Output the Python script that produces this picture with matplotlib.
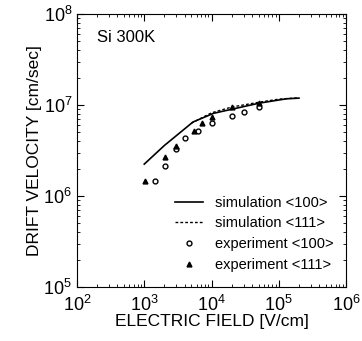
import numpy as np
from matplotlib import pyplot as plt

plt.rcParams['font.family'] = ['Liberation Sans', 'DejaVu Sans']

# simulacion <100> (linea continua)
sim100_E = [1.0e3, 2.0e3, 5.3e3, 1.07e4, 3.0e4, 5.2e4, 1.3e5, 2.0e5]
sim100_v = [2.24e6, 3.6e6, 6.5e6, 8.1e6, 9.6e6, 1.05e7, 1.17e7, 1.19e7]

# simulacion <111> (linea punteada)
sim111_E = [5.0e3, 1.0e4, 2.0e4, 5.0e4, 1.0e5, 2.0e5]
sim111_v = [6.3e6, 8.2e6, 9.5e6, 1.07e7, 1.16e7, 1.2e7]

# experimento <100> (circulos)
exp100_E = [1.45e3, 2.05e3, 3.0e3, 4.1e3, 6.2e3, 1.02e4, 2.05e4, 3.0e4, 5.1e4]
exp100_v = [1.46e6, 2.14e6, 3.26e6, 4.3e6, 5.2e6, 6.4e6, 7.6e6, 8.4e6, 9.4e6]

# experimento <111> (triangulos)
exp111_E = [1.02e3, 2.05e3, 3.0e3, 5.4e3, 7.2e3, 1.02e4, 2.05e4, 5.1e4]
exp111_v = [1.46e6, 2.7e6, 3.54e6, 5.2e6, 6.4e6, 7.4e6, 9.4e6, 1.04e7]

fig = plt.figure(figsize=(3.62, 3.41), dpi=100)
ax = fig.add_axes([77/362, 1-287/341, 269/362, 273/341])

ax.plot(sim100_E, sim100_v, 'k-', lw=1.2, label='simulation <100>')
ax.plot(sim111_E, sim111_v, 'k', ls=(0, (2, 1.5)), lw=1.0, label='simulation <111>')
ax.plot(exp100_E, exp100_v, 'o', mfc='white', mec='k', ms=3.5, mew=1.0, ls='none', label='experiment <100>')
ax.plot(exp111_E, exp111_v, '^', color='k', ms=3.5, ls='none', label='experiment <111>')

ax.set_xscale('log')
ax.set_yscale('log')
ax.set_xlim(1e2, 1e6)
ax.set_ylim(1e5, 1e8)
ax.tick_params(which='both', direction='in', top=True, right=True, labelsize=13)
ax.tick_params(which='major', length=5)
ax.tick_params(which='minor', length=2.5)
ax.tick_params(axis='x', pad=6)
ax.set_xlabel('ELECTRIC FIELD [V/cm]', fontsize=12.5, labelpad=-1)
ax.set_ylabel('DRIFT VELOCITY [cm/sec]', fontsize=12.5, labelpad=1)

ax.text(0.075, 0.94, 'Si 300K', transform=ax.transAxes, fontsize=12, va='top')

ax.legend(loc='lower right', frameon=False, fontsize=10.5, handlelength=1.9,
          handletextpad=0.8, labelspacing=0.45, borderaxespad=0.0,
          bbox_to_anchor=(0.975, 0.035))

plt.savefig('out.png', dpi=100)
